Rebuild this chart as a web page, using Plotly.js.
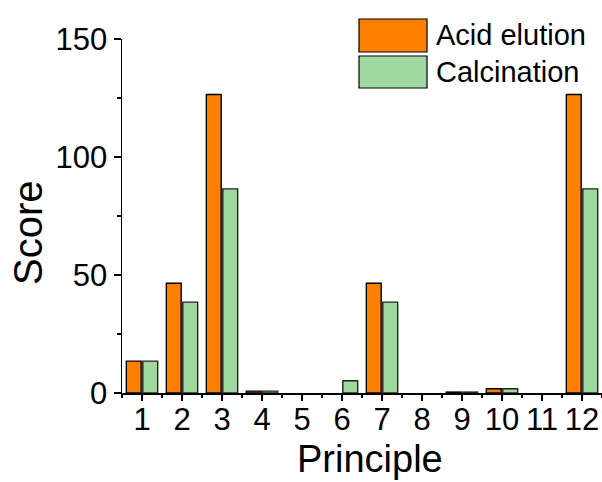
<!DOCTYPE html>
<html>
<head>
<meta charset="utf-8">
<script src="https://cdn.plot.ly/plotly-3.0.1.min.js"></script>
<style>html,body{margin:0;padding:0;background:#fff;}#chart{width:602px;height:482px;}</style>
</head>
<body>
<div id="chart"></div>
<script>
var principles = [1,2,3,4,5,6,7,8,9,10,11,12];
var tickLabels = ['1','2','3','4','5','6','7','8','9','10','11','12'];
var acidElution = [13.5, 46.5, 126.5, 0.8, null, null, 46.5, null, 0.4, 1.8, null, 126.5];
var calcination = [13.5, 38.5, 86.5, 0.8, null, 5.2, 38.5, null, 0.4, 1.8, null, 86.5];
var seriesNames = ['Acid elution', 'Calcination'];
var seriesColors = ['#FF8000', '#A0D8A0'];

var W = 602, H = 482, ML = 122, MR = 0, MT = 39, MB = 89;
var pw = W - ML - MR, ph = H - MT - MB;
function px(x){ return (x - ML) / pw; }
function py(y){ return (H - MB - y) / ph; }

var font = 'Liberation Sans, Arial, sans-serif';

var traces = [
  {type:'bar', x: principles, y: acidElution, name: seriesNames[0],
   marker:{color: seriesColors[0], line:{color:'#000', width:1.4}}},
  {type:'bar', x: principles, y: calcination, name: seriesNames[1],
   marker:{color: seriesColors[1], line:{color:'#222', width:1.4}}}
];

var shapes = [], annotations = [];
var legendRows = [[19, 52], [56, 88]];
for (var i = 0; i < seriesNames.length; i++) {
  var r = legendRows[i];
  shapes.push({type:'rect', xref:'paper', yref:'paper',
    x0: px(359), x1: px(427), y0: py(r[1]), y1: py(r[0]),
    fillcolor: seriesColors[i], line:{color:'#000', width:1.2}});
  annotations.push({xref:'paper', yref:'paper', x: px(434), y: py((r[0]+r[1])/2),
    xanchor:'left', yanchor:'middle', showarrow:false, text: seriesNames[i],
    font:{family: font, size: 29, color:'#000'}});
}
annotations.push({xref:'paper', yref:'paper', x: px(370), y: py(459), xanchor:'center', yanchor:'middle',
  showarrow:false, text:'Principle', font:{family:font, size:38, color:'#000'}});
annotations.push({xref:'paper', yref:'paper', x: px(28), y: py(233), xanchor:'center', yanchor:'middle',
  showarrow:false, text:'Score', textangle:-90, font:{family:font, size:40, color:'#000'}});

var layout = {
  width: W, height: H,
  margin:{l:ML, r:MR, t:MT, b:MB, pad:0},
  paper_bgcolor:'#fff', plot_bgcolor:'#fff',
  showlegend:false,
  barmode:'group', bargap:0.175, bargroupgap:0.1,
  font:{family:font, color:'#000'},
  xaxis:{range:[0.5, 12.5], tickmode:'array', tickvals: principles, ticktext: tickLabels,
    ticks:'outside', ticklen:6, tickwidth:1.5, tickcolor:'#000', ticklabelstandoff:-8,
    showline:true, linecolor:'#000', linewidth:1.5, showgrid:false, zeroline:false,
    tickfont:{family:font, size:31, color:'#000'},
    minor:{tickmode:'linear', tick0:0.5, dtick:1, ticks:'outside', ticklen:3, tickwidth:1.2, tickcolor:'#000', showgrid:false}},
  yaxis:{range:[0, 150], tick0:0, dtick:50,
    ticks:'outside', ticklen:7, tickwidth:1.5, tickcolor:'#000',
    showline:true, linecolor:'#000', linewidth:1.5, showgrid:false, zeroline:false,
    tickfont:{family:font, size:31, color:'#000'},
    minor:{tick0:0, dtick:25, ticks:'outside', ticklen:4, tickwidth:1.2, tickcolor:'#000', showgrid:false}},
  shapes: shapes,
  annotations: annotations
};

Plotly.newPlot('chart', traces, layout, {displayModeBar:false, staticPlot:true});
</script>
</body>
</html>
